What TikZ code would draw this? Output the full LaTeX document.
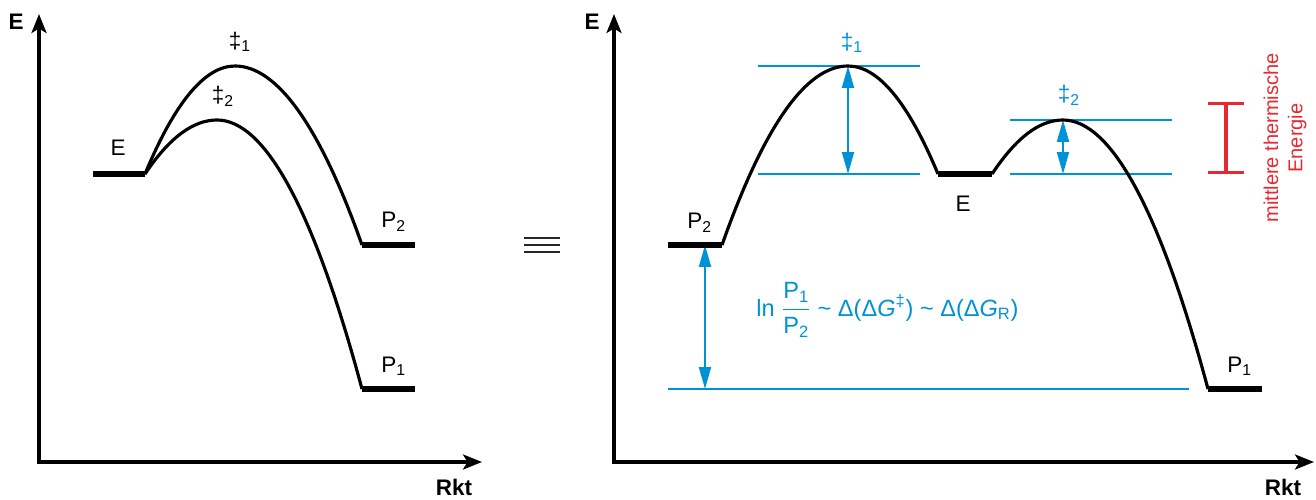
\documentclass[tikz,border=0pt]{standalone}
\usepackage{amsmath}
\usepackage{fontspec}
\setmainfont{Liberation Sans}
\usetikzlibrary{arrows.meta}

\definecolor{tsblue}{RGB}{0,146,214}
\definecolor{tsred}{RGB}{232,40,48}

\begin{document}
\begin{tikzpicture}[x=0.02cm, y=-0.02cm,
    axisarrow/.style={line width=1.8pt, line join=miter,
      {Stealth[length=0.38cm, width=0.3cm, inset=0.09cm]}-{Stealth[length=0.38cm, width=0.3cm, inset=0.09cm]}},
    plateau/.style={line width=3.4pt},
    curve/.style={line width=1.8pt, line join=round},
    hline/.style={tsblue, line width=0.9pt},
    barrier/.style={tsblue, line width=1.1pt,
      {Triangle[length=0.44cm, width=0.24cm]}-{Triangle[length=0.44cm, width=0.24cm]}},
    thermal/.style={tsred, line width=1.8pt, {Bar[width=0.72cm]}-{Bar[width=0.72cm]}},
    lab/.style={font=\fontsize{12.8}{14}\selectfont, inner sep=0pt},
    axlab/.style={font=\fontsize{12.8}{14}\selectfont\bfseries, inner sep=0pt}
  ]
    \useasboundingbox (0,0) rectangle (1316,500);

    % left diagram
    \coordinate (lO) at (39,462);
    \coordinate (lYt) at (39,14);
    \coordinate (lXt) at (482,462);
    \coordinate (lE1) at (93,174);
    \coordinate (lE2) at (145,174);
    \coordinate (lTS1) at (235,66);
    \coordinate (lTS2) at (217,120);
    \coordinate (lP2a) at (362,245);
    \coordinate (lP2b) at (415,245);
    \coordinate (lP1a) at (362,389);
    \coordinate (lP1b) at (415,389);

    \node[axlab] (lEax) at (16,22) {E};
    \node[axlab] (lRkt) at (454,487) {Rkt};
    \node[lab] (lEl) at (118,148) {E};
    \node[lab] (lTS1l) at (240,42) {‡\textsubscript{1}};
    \node[lab] (lTS2l) at (223,96) {‡\textsubscript{2}};
    \node[lab, anchor=base west] (lP2l) at (381,228) {P\textsubscript{2}};
    \node[lab, anchor=base west] (lP1l) at (381,372) {P\textsubscript{1}};

    \draw[axisarrow] (lYt) -- (lO) -- (lXt);
    \draw[plateau] (lE1) -- (lE2);
    \draw[plateau] (lP2a) -- (lP2b);
    \draw[plateau] (lP1a) -- (lP1b);
    \draw[curve] (lE2) .. controls +(30,-72) and +(-30,0) .. (lTS1)
                       .. controls +(42,0) and +(-42,-119) .. (lP2a);
    \draw[curve] (lE2) .. controls +(24,-36) and +(-24,0) .. (lTS2)
                       .. controls +(48,0) and +(-48,-179) .. (lP1a);

    % equivalence sign
    \foreach \y in {238,245,252}
      \draw[line width=1.2pt, black!85] (524,\y) -- (560,\y);

    % right diagram
    \coordinate (rO) at (614,462);
    \coordinate (rYt) at (614,14);
    \coordinate (rXt) at (1314,462);
    \coordinate (rP2a) at (668,245);
    \coordinate (rP2b) at (722,245);
    \coordinate (rTS1) at (848,66);
    \coordinate (rEa) at (938,174);
    \coordinate (rEb) at (992,174);
    \coordinate (rTS2) at (1063,120);
    \coordinate (rP1a) at (1208,389);
    \coordinate (rP1b) at (1262,389);

    \coordinate (h1a) at (758,66);   \coordinate (h1b) at (920,66);
    \coordinate (h2a) at (758,174);  \coordinate (h2b) at (920,174);
    \coordinate (h3a) at (1010,120); \coordinate (h3b) at (1172,120);
    \coordinate (h4a) at (1010,174); \coordinate (h4b) at (1172,174);
    \coordinate (h5a) at (668,389);  \coordinate (h5b) at (1189,389);
    \coordinate (b1) at (848,174);
    \coordinate (b2) at (1063,174);
    \coordinate (a1) at (705,245);
    \coordinate (a2) at (705,389);
    \coordinate (rb1) at (1226,102);
    \coordinate (rb2) at (1226,174);

    \node[axlab] (rEax) at (592,22) {E};
    \node[axlab] (rRkt) at (1283,487) {Rkt};
    \node[lab, text=tsblue] (rTS1l) at (852,43) {‡\textsubscript{1}};
    \node[lab, text=tsblue] (rTS2l) at (1069,95) {‡\textsubscript{2}};
    \node[lab, anchor=base west] (rP2l) at (687,229) {P\textsubscript{2}};
    \node[lab] (rEl) at (963,204) {E};
    \node[lab, anchor=base west] (rP1l) at (1227,372) {P\textsubscript{1}};
    \node[lab, text=tsblue, anchor=base west, font=\fontsize{13.4}{15}\selectfont] (ratio) at (756,316)
      {ln $\dfrac{\text{P}_{\text{1}}}{\text{P}_{\text{2}}}$ \textasciitilde{} Δ(Δ\textit{G}\textsuperscript{‡}) \textasciitilde{} Δ(Δ\textit{G}\textsubscript{R})};
    \node[lab, rotate=90, align=center, text=tsred, font=\fontsize{11.4}{13.8}\selectfont] (thermo) at (1285,138)
      {mittlere thermische\\Energie};

    \draw[hline] (h1a) -- (h1b);
    \draw[hline] (h2a) -- (h2b);
    \draw[hline] (h3a) -- (h3b);
    \draw[hline] (h4a) -- (h4b);
    \draw[hline] (h5a) -- (h5b);
    \draw[barrier] (rTS1) -- (b1);
    \draw[barrier] (rTS2) -- (b2);
    \draw[barrier] (a1) -- (a2);
    \draw[thermal] (rb1) -- (rb2);

    \draw[axisarrow] (rYt) -- (rO) -- (rXt);
    \draw[plateau] (rP2a) -- (rP2b);
    \draw[plateau] (rEa) -- (rEb);
    \draw[plateau] (rP1a) -- (rP1b);
    \draw[curve] (rP2b) .. controls +(42,-119) and +(-42,0) .. (rTS1)
                        .. controls +(30,0) and +(-30,-72) .. (rEa);
    \draw[curve] (rEb) .. controls +(24,-36) and +(-24,0) .. (rTS2)
                       .. controls +(48,0) and +(-48,-179) .. (rP1a);
  \end{tikzpicture}
\end{document}
